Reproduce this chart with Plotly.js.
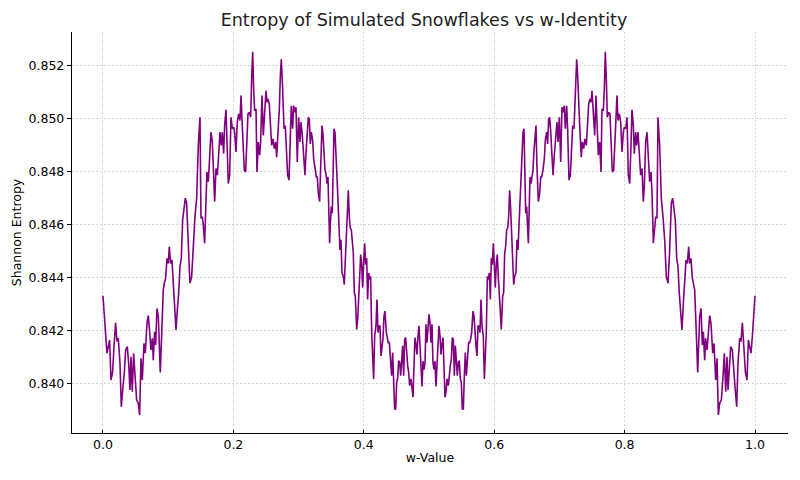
<!DOCTYPE html>
<html>
<head>
<meta charset="utf-8">
<script src="https://cdn.plot.ly/plotly-3.0.1.min.js"></script>
<style>
  html, body { margin: 0; padding: 0; background: #fff; }
  #chart { width: 800px; height: 480px; }
</style>
</head>
<body>
<div id="chart"></div>
<script>
// values; the curve is mirror-symmetric about w = 0.5
var wFirst = [
  0.0000,0.0041,0.0061,0.0082,0.0102,0.0123,0.0148,0.0169,0.0194,0.0215,0.0235,0.0261,0.0281,0.0307,0.0327,0.0348,
  0.0373,0.0394,0.0414,0.0429,0.0450,0.0470,0.0491,0.0516,0.0542,0.0562,0.0583,0.0603,0.0629,0.0649,0.0675,0.0695,
  0.0716,0.0736,0.0757,0.0772,0.0792,0.0808,0.0828,0.0849,0.0879,0.0900,0.0925,0.0941,0.0961,0.0982,0.1002,0.1017,
  0.1038,0.1058,0.1079,0.1099,0.1120,0.1140,0.1161,0.1181,0.1201,0.1222,0.1242,0.1263,0.1283,0.1309,0.1334,0.1360,
  0.1385,0.1411,0.1437,0.1462,0.1488,0.1503,0.1523,0.1539,0.1559,0.1580,0.1595,0.1616,0.1636,0.1656,0.1677,0.1697,
  0.1713,0.1733,0.1754,0.1774,0.1794,0.1815,0.1830,0.1851,0.1866,0.1887,0.1902,0.1922,0.1943,0.1963,0.1984,0.2004,
  0.2019,0.2040,0.2060,0.2081,0.2101,0.2117,0.2132,0.2147,0.2168,0.2188,0.2209,0.2224,0.2244,0.2265,0.2280,0.2296,
  0.2311,0.2326,0.2347,0.2362,0.2382,0.2403,0.2418,0.2439,0.2459,0.2480,0.2500,0.2515,0.2531,0.2551,0.2572,0.2587,
  0.2607,0.2628,0.2648,0.2664,0.2684,0.2704,0.2720,0.2735,0.2756,0.2776,0.2796,0.2817,0.2832,0.2853,0.2873,0.2888,
  0.2909,0.2924,0.2945,0.2960,0.2980,0.3001,0.3021,0.3037,0.3057,0.3078,0.3098,0.3113,0.3134,0.3149,0.3165,0.3180,
  0.3195,0.3216,0.3231,0.3252,0.3272,0.3287,0.3303,0.3323,0.3344,0.3359,0.3374,0.3390,0.3405,0.3420,0.3436,0.3451,
  0.3466,0.3476,0.3487,0.3502,0.3517,0.3533,0.3543,0.3558,0.3574,0.3589,0.3604,0.3620,0.3635,0.3650,0.3666,0.3686,
  0.3701,0.3717,0.3732,0.3747,0.3763,0.3778,0.3793,0.3809,0.3824,0.3839,0.3855,0.3870,0.3891,0.3906,0.3921,0.3937,
  0.3952,0.3967,0.3983,0.3998,0.4013,0.4029,0.4044,0.4059,0.4075,0.4090,0.4105,0.4121,0.4136,0.4151,0.4167,0.4187,
  0.4202,0.4218,0.4233,0.4248,0.4264,0.4279,0.4294,0.4310,0.4325,0.4346,0.4361,0.4376,0.4392,0.4407,0.4427,0.4443,
  0.4458,0.4473,0.4489,0.4504,0.4519,0.4535,0.4550,0.4565,0.4581,0.4596,0.4611,0.4627,0.4642,0.4657,0.4673,0.4688,
  0.4703,0.4724,0.4739,0.4755,0.4770,0.4785,0.4801,0.4816,0.4831,0.4847,0.4862,0.4877,0.4893,0.4908,0.4923,0.4939,
  0.4954,0.4969,0.4985,0.5000
];
var entropyFirst = [
  0.84333,0.84179,0.84116,0.84141,0.84166,0.84015,0.84046,0.84141,0.84231,0.84160,0.84172,0.84078,0.83914,0.83990,0.84040,0.84128,
  0.84141,0.84078,0.83977,0.84103,0.83971,0.84116,0.84028,0.83940,0.83927,0.83883,0.84097,0.84015,0.84153,0.84116,0.84229,0.84258,
  0.84197,0.84128,0.84172,0.84090,0.84197,0.84147,0.84285,0.84254,0.84043,0.84191,0.84355,0.84380,0.84399,0.84474,0.84455,0.84518,
  0.84455,0.84468,0.84367,0.84304,0.84204,0.84279,0.84342,0.84443,0.84474,0.84619,0.84657,0.84701,0.84682,0.84506,0.84380,0.84405,
  0.84543,0.84631,0.84701,0.84900,0.85006,0.84625,0.84631,0.84600,0.84531,0.84725,0.84800,0.84763,0.84838,0.84950,0.84913,0.84750,
  0.84688,0.84813,0.84788,0.84863,0.84950,0.84900,0.84950,0.84869,0.84975,0.85035,0.84900,0.84756,0.84788,0.85006,0.84963,0.84969,
  0.84950,0.84875,0.84988,0.85019,0.84994,0.85088,0.85000,0.84925,0.84806,0.84800,0.84925,0.85019,0.85025,0.85006,0.85150,0.85253,
  0.85113,0.85031,0.85038,0.84800,0.84913,0.84863,0.84913,0.85088,0.84938,0.85025,0.85106,0.85063,0.85075,0.85056,0.84963,0.84900,
  0.84925,0.84888,0.84913,0.84856,0.84950,0.85031,0.85163,0.85225,0.85113,0.84963,0.84975,0.84875,0.84788,0.84769,0.84956,0.85050,
  0.84963,0.85050,0.85025,0.85044,0.84838,0.85006,0.84913,0.84988,0.84938,0.84863,0.84788,0.84869,0.84956,0.85006,0.85000,0.84906,
  0.84950,0.84919,0.84850,0.84806,0.84781,0.84781,0.84719,0.84688,0.84819,0.84975,0.84944,0.84881,0.84806,0.84794,0.84756,0.84781,
  0.84631,0.84531,0.84606,0.84669,0.84644,0.84819,0.84963,0.84950,0.84881,0.84781,0.84694,0.84594,0.84506,0.84544,0.84419,0.84406,
  0.84375,0.84469,0.84569,0.84656,0.84731,0.84631,0.84588,0.84581,0.84519,0.84494,0.84344,0.84331,0.84206,0.84244,0.84319,0.84406,
  0.84488,0.84456,0.84363,0.84456,0.84531,0.84450,0.84475,0.84319,0.84419,0.84394,0.84406,0.84194,0.84106,0.84019,0.84181,0.84219,
  0.84319,0.84194,0.84219,0.84219,0.84106,0.84144,0.84169,0.84256,0.84275,0.84194,0.84169,0.84156,0.84156,0.84100,0.84031,0.84119,
  0.84031,0.83906,0.83906,0.84006,0.84019,0.84088,0.84081,0.84031,0.84088,0.84144,0.84031,0.84169,0.84175,0.84094,0.84069,0.84044,
  0.83994,0.84019,0.83969,0.83950,0.84069,0.84175,0.84149,0.84111,0.84181,0.84219,0.84143,0.84067,0.83991,0.84086,0.84054,0.84080,
  0.84225,0.84156,0.84232,0.84263
];
var wSecond = [
  0.5015,0.5031,0.5046,0.5061,0.5077,0.5092,0.5107,0.5123,0.5138,0.5153,0.5169,0.5184,0.5199,0.5215,0.5230,0.5245,
  0.5261,0.5276,0.5297,0.5312,0.5327,0.5343,0.5358,0.5373,0.5389,0.5404,0.5419,0.5435,0.5450,0.5465,0.5481,0.5496,
  0.5511,0.5527,0.5542,0.5557,0.5573,0.5593,0.5608,0.5624,0.5639,0.5654,0.5675,0.5690,0.5706,0.5721,0.5736,0.5752,
  0.5767,0.5782,0.5798,0.5813,0.5833,0.5849,0.5864,0.5879,0.5895,0.5910,0.5925,0.5941,0.5956,0.5971,0.5987,0.6002,
  0.6017,0.6033,0.6048,0.6063,0.6079,0.6094,0.6109,0.6130,0.6145,0.6161,0.6176,0.6191,0.6207,0.6222,0.6237,0.6253,
  0.6268,0.6283,0.6299,0.6314,0.6334,0.6350,0.6365,0.6380,0.6396,0.6411,0.6426,0.6442,0.6457,0.6467,0.6483,0.6498,
  0.6513,0.6524,0.6534,0.6549,0.6564,0.6580,0.6595,0.6610,0.6626,0.6641,0.6656,0.6677,0.6697,0.6713,0.6728,0.6748,
  0.6769,0.6784,0.6805,0.6820,0.6835,0.6851,0.6866,0.6887,0.6902,0.6922,0.6943,0.6963,0.6979,0.6999,0.7020,0.7040,
  0.7055,0.7076,0.7091,0.7112,0.7127,0.7147,0.7168,0.7183,0.7204,0.7224,0.7244,0.7265,0.7280,0.7296,0.7316,0.7336,
  0.7352,0.7372,0.7393,0.7413,0.7428,0.7449,0.7469,0.7485,0.7500,0.7520,0.7541,0.7561,0.7582,0.7597,0.7618,0.7638,
  0.7653,0.7674,0.7689,0.7704,0.7720,0.7735,0.7756,0.7776,0.7791,0.7812,0.7832,0.7853,0.7868,0.7883,0.7899,0.7919,
  0.7940,0.7960,0.7981,0.7996,0.8016,0.8037,0.8057,0.8078,0.8098,0.8113,0.8134,0.8149,0.8170,0.8185,0.8206,0.8226,
  0.8246,0.8267,0.8287,0.8303,0.8323,0.8344,0.8364,0.8384,0.8405,0.8420,0.8441,0.8461,0.8477,0.8497,0.8512,0.8538,
  0.8563,0.8589,0.8615,0.8640,0.8666,0.8691,0.8717,0.8737,0.8758,0.8778,0.8799,0.8819,0.8839,0.8860,0.8880,0.8901,
  0.8921,0.8942,0.8962,0.8983,0.8998,0.9018,0.9039,0.9059,0.9075,0.9100,0.9121,0.9151,0.9172,0.9192,0.9208,0.9228,
  0.9243,0.9264,0.9284,0.9305,0.9325,0.9351,0.9371,0.9397,0.9417,0.9438,0.9458,0.9484,0.9509,0.9530,0.9550,0.9571,
  0.9586,0.9606,0.9627,0.9652,0.9673,0.9693,0.9719,0.9739,0.9765,0.9785,0.9806,0.9831,0.9852,0.9877,0.9898,0.9918,
  0.9939,0.9959,1.0000
];
var entropySecond = [
  0.84232,0.84156,0.84225,0.84080,0.84054,0.84086,0.83991,0.84067,0.84143,0.84219,0.84181,0.84111,0.84149,0.84175,0.84069,0.83950,
  0.83969,0.84019,0.83994,0.84044,0.84069,0.84094,0.84175,0.84169,0.84031,0.84144,0.84088,0.84031,0.84081,0.84088,0.84019,0.84006,
  0.83906,0.83906,0.84031,0.84119,0.84031,0.84100,0.84156,0.84156,0.84169,0.84194,0.84275,0.84256,0.84169,0.84144,0.84106,0.84219,
  0.84219,0.84194,0.84319,0.84219,0.84181,0.84019,0.84106,0.84194,0.84406,0.84394,0.84419,0.84319,0.84475,0.84450,0.84531,0.84456,
  0.84363,0.84456,0.84488,0.84406,0.84319,0.84244,0.84206,0.84331,0.84344,0.84494,0.84519,0.84581,0.84588,0.84631,0.84731,0.84656,
  0.84569,0.84469,0.84375,0.84406,0.84419,0.84544,0.84506,0.84594,0.84694,0.84781,0.84881,0.84950,0.84963,0.84819,0.84644,0.84669,
  0.84606,0.84531,0.84631,0.84781,0.84756,0.84794,0.84806,0.84881,0.84944,0.84975,0.84819,0.84688,0.84719,0.84781,0.84781,0.84806,
  0.84850,0.84919,0.84950,0.84906,0.85000,0.85006,0.84956,0.84869,0.84788,0.84863,0.84938,0.84988,0.84913,0.85006,0.84838,0.85044,
  0.85025,0.85050,0.84963,0.85050,0.84956,0.84769,0.84788,0.84875,0.84975,0.84963,0.85113,0.85225,0.85163,0.85031,0.84950,0.84856,
  0.84913,0.84888,0.84925,0.84900,0.84963,0.85056,0.85075,0.85063,0.85106,0.85025,0.84938,0.85088,0.84913,0.84863,0.84913,0.84800,
  0.85038,0.85031,0.85113,0.85253,0.85150,0.85006,0.85025,0.85019,0.84925,0.84800,0.84806,0.84925,0.85000,0.85088,0.84994,0.85019,
  0.84988,0.84875,0.84950,0.84969,0.84963,0.85006,0.84788,0.84756,0.84900,0.85035,0.84975,0.84869,0.84950,0.84900,0.84950,0.84863,
  0.84788,0.84813,0.84688,0.84750,0.84913,0.84950,0.84838,0.84763,0.84800,0.84725,0.84531,0.84600,0.84631,0.84625,0.85006,0.84900,
  0.84701,0.84631,0.84543,0.84405,0.84380,0.84506,0.84682,0.84701,0.84657,0.84619,0.84474,0.84443,0.84342,0.84279,0.84204,0.84304,
  0.84367,0.84468,0.84455,0.84518,0.84455,0.84474,0.84399,0.84380,0.84355,0.84191,0.84043,0.84254,0.84285,0.84147,0.84197,0.84090,
  0.84172,0.84128,0.84197,0.84258,0.84229,0.84116,0.84153,0.84015,0.84097,0.83883,0.83927,0.83940,0.84028,0.84116,0.83971,0.84103,
  0.83977,0.84078,0.84141,0.84128,0.84040,0.83990,0.83914,0.84078,0.84172,0.84160,0.84231,0.84141,0.84046,0.84015,0.84166,0.84141,
  0.84116,0.84179,0.84333
];

var xTicks = [0, 0.2, 0.4, 0.6, 0.8, 1.0];
var xTickText = ['0.0', '0.2', '0.4', '0.6', '0.8', '1.0'];
var yTicks = [0.840, 0.842, 0.844, 0.846, 0.848, 0.850, 0.852];

var font = 'DejaVu Sans, sans-serif';

var trace = {
  x: wFirst.concat(wSecond),
  y: entropyFirst.concat(entropySecond),
  type: 'scatter',
  mode: 'lines',
  line: {color: '#800080', width: 1.6},
  hoverinfo: 'x+y'
};

var layout = {
  width: 800,
  height: 480,
  margin: {l: 72, r: 12, t: 32, b: 47},
  paper_bgcolor: '#fff',
  plot_bgcolor: '#fff',
  showlegend: false,
  font: {family: font, size: 12.5, color: '#000'},
  title: {
    text: 'Entropy of Simulated Snowflakes vs w-Identity',
    font: {family: font, size: 17.5, color: '#222'},
    xref: 'paper', x: 0.4916, xanchor: 'center', y: 0.958, yanchor: 'middle'
  },
  xaxis: {
    range: [-0.0475, 1.0506],
    tickvals: xTicks,
    ticktext: xTickText,
    ticks: 'inside', ticklen: 3, tickwidth: 1, tickcolor: '#000',
    showline: true, linecolor: '#000', linewidth: 1.2,
    showgrid: true, gridcolor: '#cccccc', gridwidth: 0.8, griddash: '2px,2px',
    zeroline: false,
    title: {text: 'w-Value', font: {family: font, size: 12.5}, standoff: 2}
  },
  yaxis: {
    range: [0.83815, 0.85328],
    tickvals: yTicks,
    tickformat: '.3f',
    ticks: 'outside', ticklen: 4, tickwidth: 1, tickcolor: '#000',
    showline: true, linecolor: '#000', linewidth: 1.2,
    showgrid: true, gridcolor: '#cccccc', gridwidth: 0.8, griddash: '2px,2px',
    zeroline: false,
    title: {text: 'Shannon Entropy', font: {family: font, size: 12.5}, standoff: 4}
  }
};

Plotly.newPlot('chart', [trace], layout, {displayModeBar: false, staticPlot: true});
</script>
</body>
</html>
